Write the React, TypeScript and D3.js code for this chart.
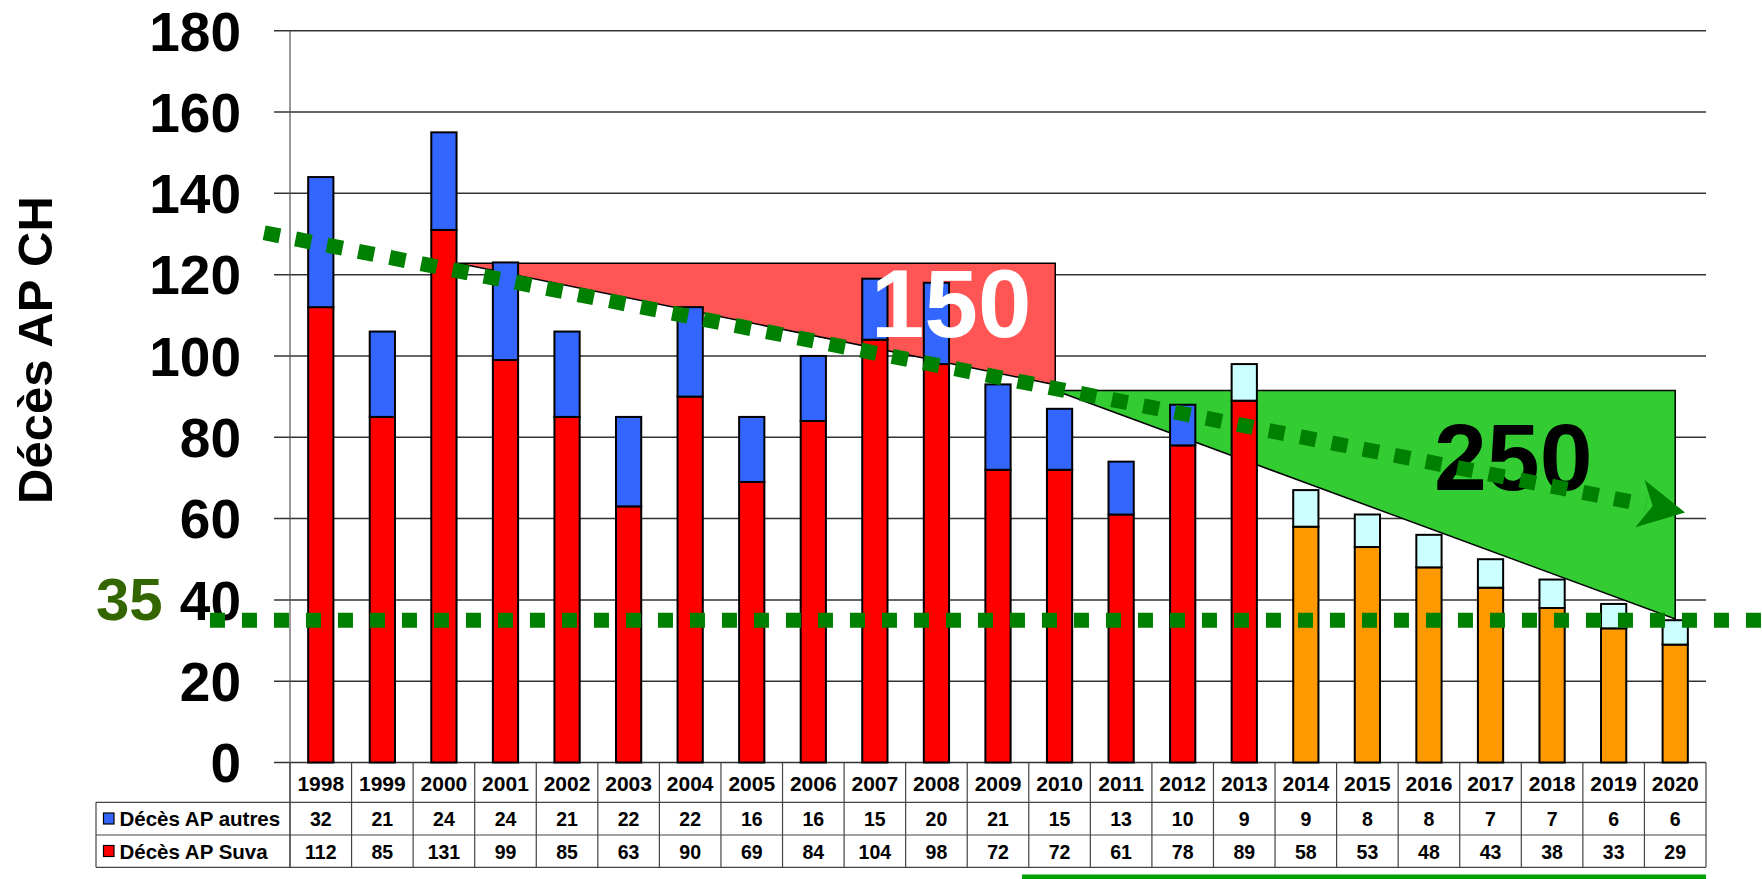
import React from 'react'
import * as d3 from 'd3'

// deaths from occupational disease (AP), Switzerland
const years = ['1998', '1999', '2000', '2001', '2002', '2003', '2004', '2005', '2006', '2007', '2008', '2009',
  '2010', '2011', '2012', '2013', '2014', '2015', '2016', '2017', '2018', '2019', '2020']
const autres = [32, 21, 24, 24, 21, 22, 22, 16, 16, 15, 20, 21, 15, 13, 10, 9, 9, 8, 8, 7, 7, 6, 6]
const suva = [112, 85, 131, 99, 85, 63, 90, 69, 84, 104, 98, 72, 72, 61, 78, 89, 58, 53, 48, 43, 38, 33, 29]
const yTicks = [0, 20, 40, 60, 80, 100, 120, 140, 160, 180]

// annotations, in [year, value]
const redWedge = [[2000.23, 122.8], [2009.93, 122.8], [2009.93, 92.9]]
const greenWedge = [[2009.93, 91.5], [2020, 91.5], [2020, 35.3]]
const trend = [[1997.08, 130.3], [2020.16, 61.5]]
const target = 35
const targetSpan = [1996.2, 2021.5]

const W = 1762
const H = 879
const left = 290, right = 1706, top = 30.7, bottom = 762.5
const rowA = 802.3, rowB = 835, rowC = 867.3
const legendX = 96

const font = '"Liberation Sans", Arial, sans-serif'

const App = () => {
  const x = d3.scaleBand().domain(years).range([left, right])
  const bw = x.bandwidth()
  const barW = bw * 0.41
  const xYear = d3.scaleLinear().domain([1997.5, 2020.5]).range([left, right])
  const y = d3.scaleLinear().domain([0, 180]).range([bottom, top])

  const cx = (yr: string) => (x(yr) as number) + bw / 2
  const suvaCol = (yr: string) => (+yr >= 2014 ? '#FF9900' : '#FF0000')
  const autresCol = (yr: string) => (+yr >= 2013 ? '#CCFFFF' : '#3366FF')

  const poly = d3.line<number[]>().x(d => xYear(d[0])).y(d => y(d[1]))

  const t0 = trend[0], t1 = trend[1]
  const ax = xYear(t1[0]), ay = y(t1[1])
  const ang = Math.atan2(ay - y(t0[1]), ax - xYear(t0[0])) * 180 / Math.PI
  // stop the dashes a bit before the arrow tip
  const back = 40
  const rad = ang * Math.PI / 180
  const lineEnd = [ax - Math.cos(rad) * back, ay - Math.sin(rad) * back]

  return (
    <svg width={W} height={H} style={{ position: 'fixed', left: 0, top: 0, background: '#fff' }}
      fontFamily={font} fontWeight="bold">
      {/* gridlines + ticks */}
      {yTicks.map(t => (
        <line key={t} x1={left - 16} x2={right} y1={y(t)} y2={y(t)} stroke="#333" strokeWidth={1.5} />
      ))}
      {yTicks.map(t => (
        <text key={'l' + t} x={241} y={y(t)} dy="0.36em" textAnchor="end" fontSize={55}>{t}</text>
      ))}
      <text transform={`translate(52,350) rotate(-90)`} textAnchor="middle" fontSize={49}>Décès AP CH</text>

      {/* wedges behind the bars */}
      <path d={poly(redWedge) + 'Z'} fill="#FF5555" stroke="#000" strokeWidth={1.5} />
      <path d={poly(greenWedge) + 'Z'} fill="#33CC33" stroke="#000" strokeWidth={1.5} />

      {/* stacked bars */}
      {years.map((yr, i) => (
        <g key={yr}>
          <rect x={cx(yr) - barW / 2} y={y(suva[i])} width={barW} height={y(0) - y(suva[i])}
            fill={suvaCol(yr)} stroke="#000" strokeWidth={2} />
          <rect x={cx(yr) - barW / 2} y={y(suva[i] + autres[i])} width={barW}
            height={y(suva[i]) - y(suva[i] + autres[i])}
            fill={autresCol(yr)} stroke="#000" strokeWidth={2} />
        </g>
      ))}

      {/* axis line */}
      <line x1={left} x2={left} y1={top} y2={rowC} stroke="#555" strokeWidth={1.2} />

      {/* data table */}
      <g stroke="#444" strokeWidth={1.2}>
        <line x1={legendX} x2={right} y1={rowA} y2={rowA} />
        <line x1={legendX} x2={right} y1={rowB} y2={rowB} />
        <line x1={legendX} x2={right} y1={rowC} y2={rowC} />
        <line x1={legendX} x2={legendX} y1={rowA} y2={rowC} />
        <line x1={right} x2={right} y1={bottom} y2={rowC} />
        {years.map(yr => (
          <line key={yr} x1={x(yr)} x2={x(yr)} y1={bottom} y2={rowC} />
        ))}
      </g>
      {years.map((yr, i) => (
        <g key={'t' + yr} textAnchor="middle">
          <text x={cx(yr)} y={790.5} fontSize={21}>{yr}</text>
          <text x={cx(yr)} y={826} fontSize={19.5}>{autres[i]}</text>
          <text x={cx(yr)} y={859} fontSize={19.5}>{suva[i]}</text>
        </g>
      ))}
      <rect x={103.5} y={813} width={10.5} height={11} fill="#3366FF" stroke="#000" strokeWidth={1.2} />
      <rect x={103.5} y={845.5} width={10.5} height={11} fill="#FF0000" stroke="#000" strokeWidth={1.2} />
      <text x={119.5} y={826} fontSize={20.5}>Décès AP autres</text>
      <text x={119.5} y={859} fontSize={20.5}>Décès AP Suva</text>

      {/* wedge labels */}
      <text x={xYear(2008.24)} y={y(104.7)} textAnchor="middle" fontSize={96} fill="#fff">150</text>
      <text x={xYear(2017.37)} y={y(67)} textAnchor="middle" fontSize={95} fill="#000">250</text>

      {/* target line */}
      <line x1={xYear(targetSpan[0])} x2={xYear(targetSpan[1])} y1={y(target)} y2={y(target)}
        stroke="#008000" strokeWidth={15} strokeDasharray="15 17" />
      <text x={96} y={620} fontSize={60} fill="#336600">{target}</text>

      {/* trend arrow */}
      <line x1={xYear(t0[0])} y1={y(t0[1])} x2={lineEnd[0]} y2={lineEnd[1]}
        stroke="#008000" strokeWidth={15} strokeDasharray="16 16" />
      <path d="M0,0 L-46,-24 L-33,0 L-46,24 Z" fill="#008000"
        transform={`translate(${ax},${ay}) rotate(${ang})`} />

      {/* green underline at the bottom */}
      <line x1={1022} x2={right} y1={877} y2={877} stroke="#00A000" strokeWidth={5} />
    </svg>
  )
}

export default App
